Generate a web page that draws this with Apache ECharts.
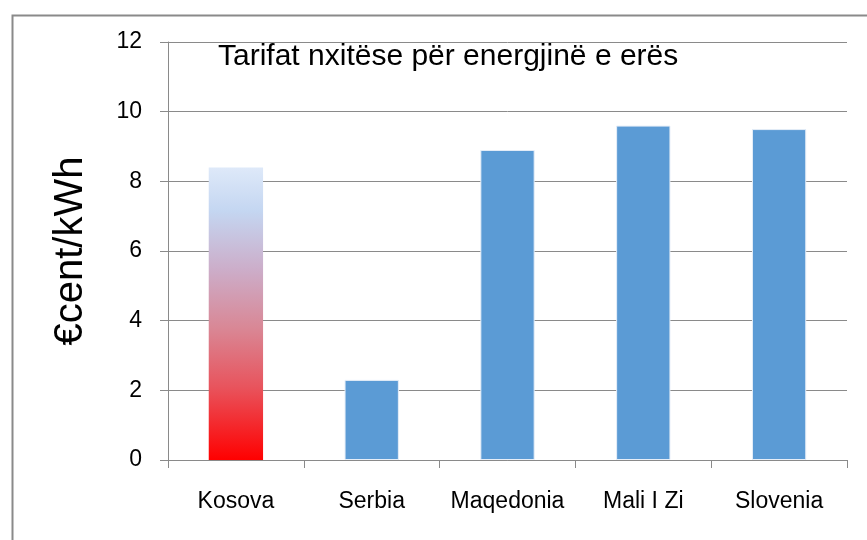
<!DOCTYPE html>
<html>
<head>
    <meta charset="UTF-8">
    <script type="text/javascript" src="https://cdn.jsdelivr.net/npm/echarts@6/dist/echarts.min.js"></script>
    <style>
        body { margin: 0; background: #fff; }
    </style>
</head>
<body>
    <div style="height: 540px;width: 867px" id="myDiv"></div>
    <script type="text/javascript">
        var countries = ['Kosova', 'Serbia', 'Maqedonia', 'Mali I Zi', 'Slovenia'];
        var tariffs = [8.4, 2.3, 8.9, 9.6, 9.5];
        var yTicks = [0, 2, 4, 6, 8, 10, 12];

        var font = '"Liberation Sans", sans-serif';

        // first bar (Kosova) gets the red→blue fade, the rest plain blue
        var barData = [];
        for (var i = 0; i < tariffs.length; i++) {
            var item = {value: tariffs[i]};
            if (i === 0) {
                item.itemStyle = {
                    color: new echarts.graphic.LinearGradient(0, 0, 0, 1, [
                        {offset: 0, color: '#dee9f9'},
                        {offset: 0.15, color: '#c4d6f1'},
                        {offset: 0.35, color: '#ccadc9'},
                        {offset: 0.55, color: '#d98795'},
                        {offset: 0.75, color: '#e8545d'},
                        {offset: 1, color: '#ff0000'}
                    ]),
                    borderWidth: 0
                };
            }
            barData.push(item);
        }

        var chart = echarts.init(document.getElementById("myDiv"));
        var option = {
            animation: false,
            title: {
                text: 'Tarifat nxitëse për energjinë e erës',
                left: 213,
                top: 37,
                textStyle: {
                    fontFamily: font,
                    fontWeight: 'normal',
                    fontSize: 30,
                    color: '#000'
                }
            },
            graphic: [{
                type: 'rect',
                left: 10,
                top: 13,
                shape: {width: 900, height: 600},
                style: {fill: 'none', stroke: '#8a8a8a', lineWidth: 2},
                z: -10
            }],
            grid: {
                left: 168,
                right: 20,
                top: 42,
                bottom: 80
            },
            xAxis: {
                type: 'category',
                data: countries,
                axisLine: {lineStyle: {color: '#8a8a8a', width: 1}},
                axisTick: {show: true, interval: 0, length: 8, lineStyle: {color: '#8a8a8a'}},
                axisLabel: {
                    interval: 0,
                    margin: 30,
                    fontFamily: font,
                    fontSize: 23,
                    color: '#000'
                }
            },
            yAxis: {
                type: 'value',
                min: yTicks[0],
                max: yTicks[yTicks.length - 1],
                interval: 2,
                name: '€cent/kWh',
                nameLocation: 'middle',
                nameRotate: 90,
                nameGap: 77,
                nameTextStyle: {
                    fontFamily: font,
                    fontSize: 40,
                    color: '#000'
                },
                axisLine: {show: true, lineStyle: {color: '#8a8a8a', width: 1}},
                axisTick: {show: true, length: 8, lineStyle: {color: '#8a8a8a'}},
                axisLabel: {
                    margin: 26,
                    fontFamily: font,
                    fontSize: 23,
                    color: '#000'
                },
                splitLine: {lineStyle: {color: '#8a8a8a', width: 1}}
            },
            series: [{
                name: 'tarifa',
                type: 'bar',
                barWidth: '40%',
                itemStyle: {
                    color: '#5b9bd5',
                    borderColor: '#e6eef8',
                    borderWidth: 1
                },
                data: barData
            }]
        };
        chart.setOption(option);
    </script>
</body>
</html>
